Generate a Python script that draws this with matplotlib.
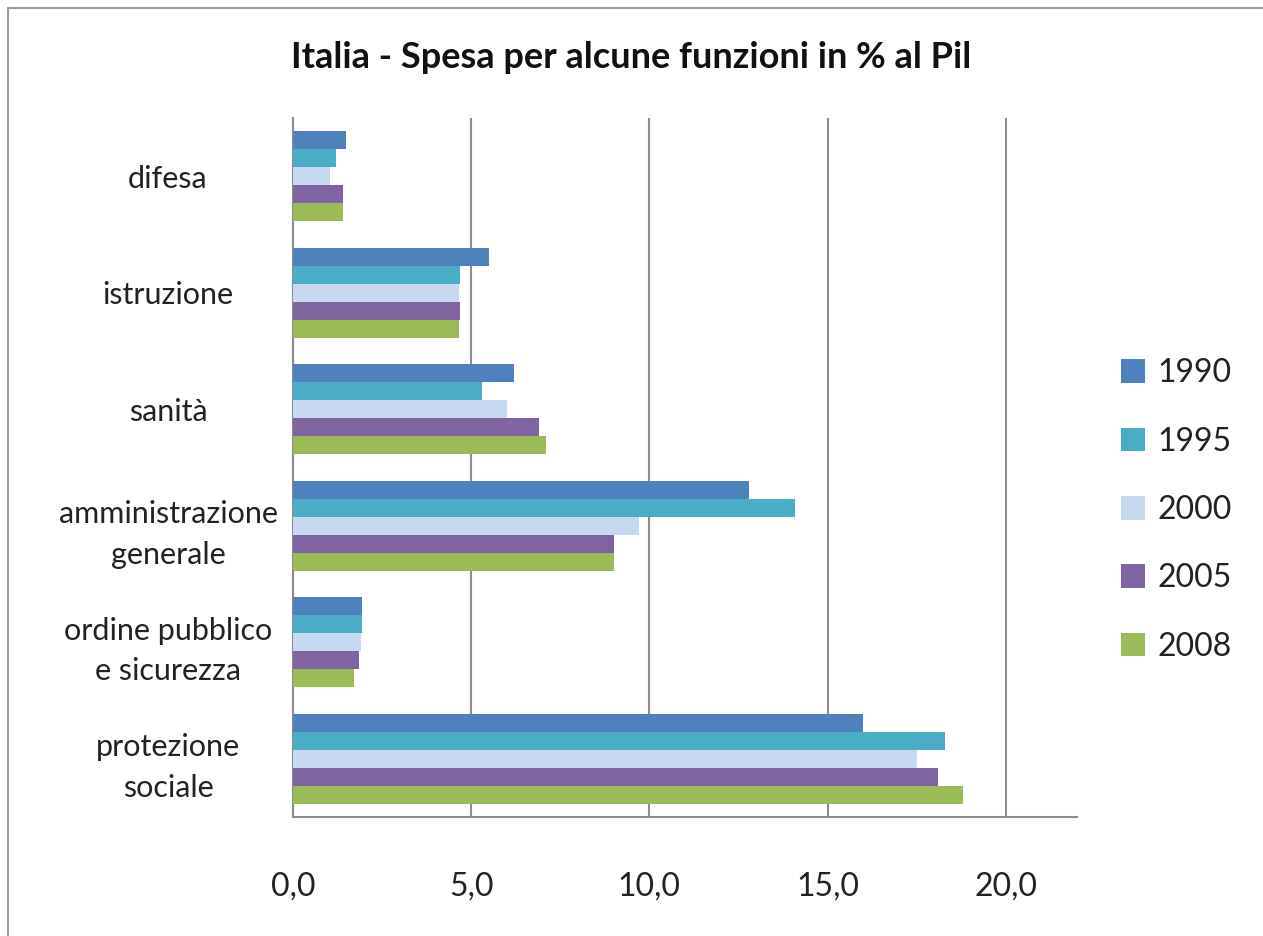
import matplotlib
matplotlib.use("Agg")
import matplotlib.pyplot as plt
import numpy as np
from matplotlib.patches import Rectangle, Patch

plt.rcParams['font.family'] = ['Lato', 'DejaVu Sans']

categories = ["difesa", "istruzione", "sanità", "amministrazione\ngenerale",
              "ordine pubblico\ne sicurezza", "protezione\nsociale"]
years = ["1990", "1995", "2000", "2005", "2008"]
v1990 = [1.5, 5.5, 6.2, 12.8, 1.95, 16.0]
v1995 = [1.2, 4.7, 5.3, 14.1, 1.95, 18.3]
v2000 = [1.05, 4.65, 6.0, 9.7, 1.9, 17.5]
v2005 = [1.4, 4.7, 6.9, 9.0, 1.85, 18.1]
v2008 = [1.4, 4.65, 7.1, 9.0, 1.7, 18.8]
series = [v1990, v1995, v2000, v2005, v2008]
colors = ["#4F81BD", "#4BACC6", "#C6D9F1", "#8064A2", "#9BBB59"]
xticks = [0, 5, 10, 15, 20]
xticklabels = ["0,0", "5,0", "10,0", "15,0", "20,0"]

fig = plt.figure(figsize=(12.63, 9.36), dpi=100)
fig.patches.append(Rectangle((8/1263, -0.1), 1.2, (936-8)/936 + 0.1,
                             transform=fig.transFigure, fill=False,
                             edgecolor="#9a9a9a", linewidth=1.5))

ax = fig.add_axes([293/1263, (936-817)/936, (1077-293)/1263, (817-118)/936])

n = len(categories)
bh = 0.154
y = np.arange(n)
for i, (vals, c, yr) in enumerate(zip(series, colors, years)):
    offs = (i - 2) * bh
    ax.barh(y + offs, vals, height=bh, color=c, label=yr, zorder=3)

ax.set_ylim(n - 0.5, -0.5)
ax.set_xlim(0, 22)
ax.set_xticks(xticks)
ax.set_xticklabels(xticklabels, fontsize=23, color="#222222")
ax.set_yticks(y)
ax.set_yticklabels(categories, fontsize=22, color="#222222", ha="center",
                   linespacing=1.55)
ax.tick_params(axis="x", length=0, pad=39)
ax.tick_params(axis="y", length=0, pad=90)
ax.xaxis.grid(True, color="#8c8c8c", linewidth=1.5, zorder=0)
ax.set_axisbelow(True)
for s in ["top", "right"]:
    ax.spines[s].set_visible(False)
for s in ["left", "bottom"]:
    ax.spines[s].set_color("#8c8c8c")
    ax.spines[s].set_linewidth(1.5)

fig.text(0.5, (936-57)/936, "Italia - Spesa per alcune funzioni in % al Pil",
         ha="center", va="center", fontsize=26, fontweight="bold", color="#111111")

handles = [Patch(facecolor=c, edgecolor="none") for c in colors]
fig.legend(handles, years, loc="center left",
           bbox_to_anchor=(1108/1263, (936-510)/936), frameon=False,
           fontsize=23, handlelength=0.75, handleheight=0.75,
           handletextpad=0.4, labelspacing=1.2, borderaxespad=0,
           labelcolor="#222222")

fig.savefig("out.png", dpi=100)
